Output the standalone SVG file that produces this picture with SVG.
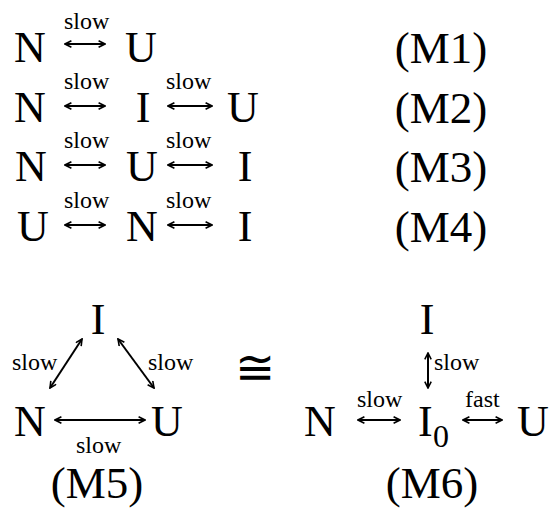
<svg xmlns="http://www.w3.org/2000/svg" width="556" height="515" viewBox="0 0 556 515">
<defs>
<marker id="ah" viewBox="0 0 10 10" refX="9" refY="5" markerWidth="8" markerHeight="8" markerUnits="userSpaceOnUse" orient="auto-start-reverse">
<path d="M1,1 L9,5 L1,9" fill="none" stroke="#000" stroke-width="2"/>
</marker>
<style>
text{font-family:"Liberation Serif","Times New Roman",serif;fill:#000}
.big{font-size:44px}
.lab{font-size:45px}
.sm{font-size:24px}
.sub{font-size:32px}
.m{text-anchor:middle}
.arr{stroke:#000;stroke-width:2;fill:none;marker-start:url(#ah);marker-end:url(#ah)}
</style>
</defs>
<rect width="556" height="515" fill="#fff"/>

<g id="M1">
<text class="big m" x="30" y="62">N</text>
<text class="sm" x="64" y="29">slow</text>
<text class="big m" x="141" y="62">U</text>
<text class="lab m" x="441" y="63">(M1)</text>
</g>
<g id="M2">
<text class="big m" x="30" y="122">N</text>
<text class="sm" x="64" y="89">slow</text>
<text class="big m" x="143" y="122">I</text>
<text class="sm" x="166" y="89">slow</text>
<text class="big m" x="243" y="122">U</text>
<text class="lab m" x="441" y="123">(M2)</text>
</g>
<g id="M3">
<text class="big m" x="31" y="181">N</text>
<text class="sm" x="64" y="148">slow</text>
<text class="big m" x="142" y="181">U</text>
<text class="sm" x="166" y="148">slow</text>
<text class="big m" x="245" y="181">I</text>
<text class="lab m" x="441" y="182">(M3)</text>
</g>
<g id="M4">
<text class="big m" x="33" y="241">U</text>
<text class="sm" x="64" y="208">slow</text>
<text class="big m" x="142" y="241">N</text>
<text class="sm" x="166" y="208">slow</text>
<text class="big m" x="245" y="241">I</text>
<text class="lab m" x="441" y="242">(M4)</text>
</g>

<g id="M5">
<text class="big m" x="98" y="334">I</text>
<text class="big m" x="30" y="436">N</text>
<text class="big m" x="167" y="436">U</text>
<text class="sm" x="12" y="370">slow</text>
<text class="sm" x="148" y="370">slow</text>
<text class="sm" x="76" y="453">slow</text>
<text class="lab m" x="97" y="498">(M5)</text>
</g>

<g id="M6">
<text class="big m" x="427" y="334">I</text>
<text class="sm" x="434" y="370">slow</text>
<text class="big m" x="320" y="436">N</text>
<text class="sm" x="357" y="407">slow</text>
<text class="big" x="418" y="436">I</text>
<text class="sub" x="433" y="447">0</text>
<text class="sm" x="465" y="407">fast</text>
<text class="big m" x="533" y="436">U</text>
<text class="lab m" x="432" y="498">(M6)</text>
</g>

<g id="cong">
<text x="255" y="384" text-anchor="middle" style="font-family:'DejaVu Serif',serif;font-size:48px">≅</text>
</g>

<g id="connectors">
<line class="arr" x1="65" y1="44" x2="105" y2="44"/>
<line class="arr" x1="65" y1="106" x2="105" y2="106"/>
<line class="arr" x1="168" y1="106" x2="212" y2="106"/>
<line class="arr" x1="65" y1="165" x2="105" y2="165"/>
<line class="arr" x1="168" y1="165" x2="212" y2="165"/>
<line class="arr" x1="65" y1="225" x2="105" y2="225"/>
<line class="arr" x1="168" y1="225" x2="212" y2="225"/>
<line class="arr" x1="50" y1="388" x2="82" y2="339"/>
<line class="arr" x1="118" y1="339" x2="154" y2="388"/>
<line class="arr" x1="55" y1="420" x2="145" y2="420"/>
<line class="arr" x1="428" y1="353" x2="428" y2="388"/>
<line class="arr" x1="358" y1="420" x2="400" y2="420"/>
<line class="arr" x1="463" y1="420" x2="502" y2="420"/>
</g>
</svg>
